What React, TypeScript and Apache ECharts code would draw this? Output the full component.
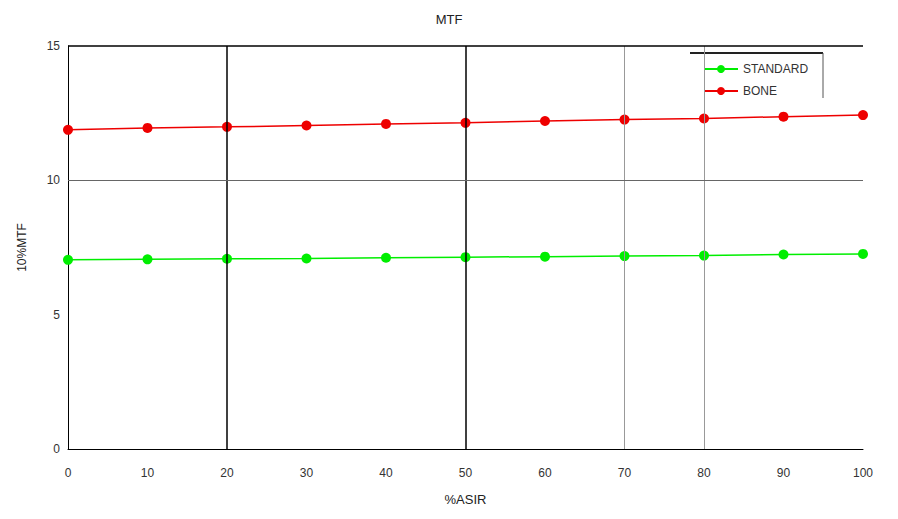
import React, { useEffect, useRef } from "react";
import * as echarts from "echarts";

const xValues = [0, 10, 20, 30, 40, 50, 60, 70, 80, 90, 100];
const standard = [7.04, 7.06, 7.08, 7.09, 7.12, 7.14, 7.16, 7.18, 7.2, 7.24, 7.26];
const bone = [11.88, 11.95, 11.99, 12.04, 12.1, 12.14, 12.21, 12.26, 12.3, 12.37, 12.43];
const darkX = [20, 50];
const grayX = [70, 80];

export default function App() {
  const ref = useRef<HTMLDivElement>(null);
  useEffect(() => {
    const chart = echarts.init(ref.current!, null, { renderer: "svg" });
    const font = "Liberation Sans, Arial, sans-serif";
    chart.setOption({
      animation: false,
      title: { text: "MTF", left: "center", top: 0, textStyle: { fontSize: 13, fontWeight: "normal", color: "#222", fontFamily: font } },
      grid: { left: 60, right: 27, top: 38, bottom: 56 },
      legend: {
        top: 50, left: 690, orient: "vertical", itemWidth: 34, itemHeight: 10, itemGap: 10,
        textStyle: { fontSize: 12, color: "#333", fontFamily: font },
        data: ["STANDARD", "BONE"],
      },
      graphic: [
        { type: "line", shape: { x1: 682, y1: 45, x2: 815, y2: 45 }, style: { stroke: "#222", lineWidth: 2 } },
        { type: "line", shape: { x1: 815, y1: 45, x2: 815, y2: 90 }, style: { stroke: "#555", lineWidth: 1 } },
      ],
      xAxis: {
        type: "value", min: 0, max: 100, interval: 10,
        name: "%ASIR", nameLocation: "middle", nameGap: 44,
        nameTextStyle: { fontSize: 13, color: "#222", fontFamily: font },
        axisLine: { lineStyle: { color: "#000" } },
        axisTick: { show: false },
        axisLabel: { fontSize: 12, color: "#333", fontFamily: font, margin: 18 },
        splitLine: { show: false },
      },
      yAxis: {
        type: "value", min: 0, max: 15, interval: 5,
        name: "10%MTF", nameLocation: "middle", nameGap: 40,
        nameTextStyle: { fontSize: 12, color: "#222", fontFamily: font },
        axisLine: { show: true, lineStyle: { color: "#000" } },
        axisTick: { show: false },
        axisLabel: { fontSize: 12, color: "#333", fontFamily: font },
        splitLine: { show: false },
      },
      series: [
        {
          name: "STANDARD", type: "line", data: xValues.map((x, i) => [x, standard[i]]),
          symbol: "circle", symbolSize: 10, itemStyle: { color: "#00ee00" }, lineStyle: { color: "#00ee00", width: 1.5 },
          markLine: {
            silent: true, symbol: "none", label: { show: false },
            data: [
              ...darkX.map((x) => ({ xAxis: x, lineStyle: { color: "#000", width: 1.5, type: "solid" } })),
              ...grayX.map((x) => ({ xAxis: x, lineStyle: { color: "#999", width: 1, type: "solid" } })),
              { yAxis: 10, lineStyle: { color: "#666", width: 1, type: "solid" } },
              { yAxis: 15, lineStyle: { color: "#000", width: 1.5, type: "solid" } },
            ],
          },
        },
        {
          name: "BONE", type: "line", data: xValues.map((x, i) => [x, bone[i]]),
          symbol: "circle", symbolSize: 10, itemStyle: { color: "#ee0000" }, lineStyle: { color: "#ee0000", width: 1.5 },
        },
      ],
    });
    return () => chart.dispose();
  }, []);
  return <div ref={ref} style={{ width: 882, height: 503 }} />;
}
